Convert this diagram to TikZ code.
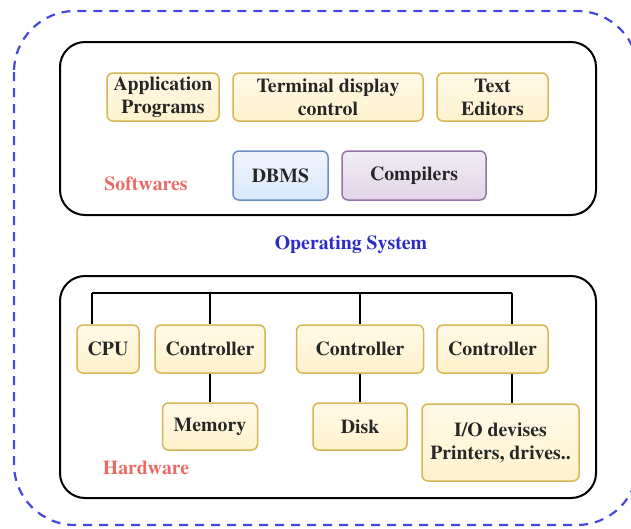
\documentclass[tikz,border=0pt]{standalone}
\usepackage[T1]{fontenc}
\usepackage{times}
\usetikzlibrary{calc}
\definecolor{yfill}{HTML}{FFF2CC}
\definecolor{ydraw}{HTML}{D6B656}
\definecolor{bfill}{HTML}{DAE8FC}
\definecolor{bdraw}{HTML}{6C8EBF}
\definecolor{pfill}{HTML}{E1D5E7}
\definecolor{pdraw}{HTML}{9673A6}
\definecolor{osblue}{HTML}{2B2BC8}
\definecolor{dashblue}{HTML}{4646E0}
\definecolor{lblred}{HTML}{EA6B66}
\begin{document}
\begin{tikzpicture}[x=1pt,y=-1pt,
  basebox/.style={line width=1.5pt, rounded corners=6pt, align=center, inner sep=0pt,
    font=\rmfamily\bfseries\fontsize{19.8}{23}\selectfont, text=black!85},
  ybox/.style={basebox, draw=ydraw, top color=yfill!45!white, bottom color=yfill},
  bbox/.style={basebox, draw=bdraw, top color=bfill!45!white, bottom color=bfill},
  pbox/.style={basebox, draw=pdraw, top color=pfill!45!white, bottom color=pfill},
  group/.style={draw=black, line width=2pt, rounded corners=25pt},
  lbl/.style={font=\rmfamily\bfseries\fontsize{19.8}{23}\selectfont, inner sep=0pt},
  wire/.style={draw=black, line width=1.1pt}]
\useasboundingbox (0,0) rectangle (631,528);
\clip (0,0) rectangle (631,528);
% outer dashed frame
\draw[dashblue, line width=2.2pt, dash pattern=on 9pt off 7pt, rounded corners=61pt]
  (14,11) rectangle (638,525);
% group frames
\draw[group] (60,42) rectangle (596,215);
\draw[group] (60,276) rectangle (596,498);
% software boxes
\node[ybox, minimum width=112pt, minimum height=48pt] (app) at (163,97) {Application\\Programs};
\node[ybox, minimum width=190pt, minimum height=48pt] (term) at (328,97) {Terminal display\\control};
\node[ybox, minimum width=111pt, minimum height=48pt] (text) at (492.5,97) {Text\\Editors};
\node[bbox, minimum width=95pt, minimum height=49pt] (dbms) at (280.5,175.5) {DBMS};
\node[pbox, minimum width=144pt, minimum height=49pt] (comp) at (414,175.5) {Compilers};
\node[lbl, text=lblred] (sw) at (146,184) {Softwares};
\node[lbl, text=osblue] (os) at (351,245) {Operating System};
% hardware boxes
\node[ybox, minimum width=62pt, minimum height=48pt] (cpu) at (108,349) {CPU};
\node[ybox, minimum width=110pt, minimum height=48pt] (ctrlA) at (210,349) {Controller};
\node[ybox, minimum width=127pt, minimum height=48pt] (ctrlB) at (360,349) {Controller};
\node[ybox, minimum width=111pt, minimum height=48pt] (ctrlC) at (492.5,349) {Controller};
\node[ybox, minimum width=95pt, minimum height=47pt] (mem) at (210,426.5) {Memory};
\node[ybox, minimum width=94pt, minimum height=47pt] (disk) at (360,426.5) {Disk};
\node[ybox, minimum width=157pt, minimum height=77pt] (io) at (500.5,442.5) {I/O devises\\Printers, drives..};
\node[lbl, text=lblred] (hw) at (146,468) {Hardware};
% bus
\coordinate (bL) at (92,293);
\coordinate (bR) at (512,293);
\draw[wire] (bL) -- (bR);
\draw[wire] (bL) -- (bL |- cpu.north);
\draw[wire] (ctrlA.north |- bL) -- (ctrlA.north);
\draw[wire] (ctrlB.north |- bL) -- (ctrlB.north);
\draw[wire] (bR) -- (bR |- ctrlC.north);
\draw[wire] (ctrlA.south) -- (mem.north);
\draw[wire] (ctrlB.south) -- (disk.north);
\draw[wire] (bR |- ctrlC.south) -- (bR |- io.north);
\end{tikzpicture}
\end{document}
